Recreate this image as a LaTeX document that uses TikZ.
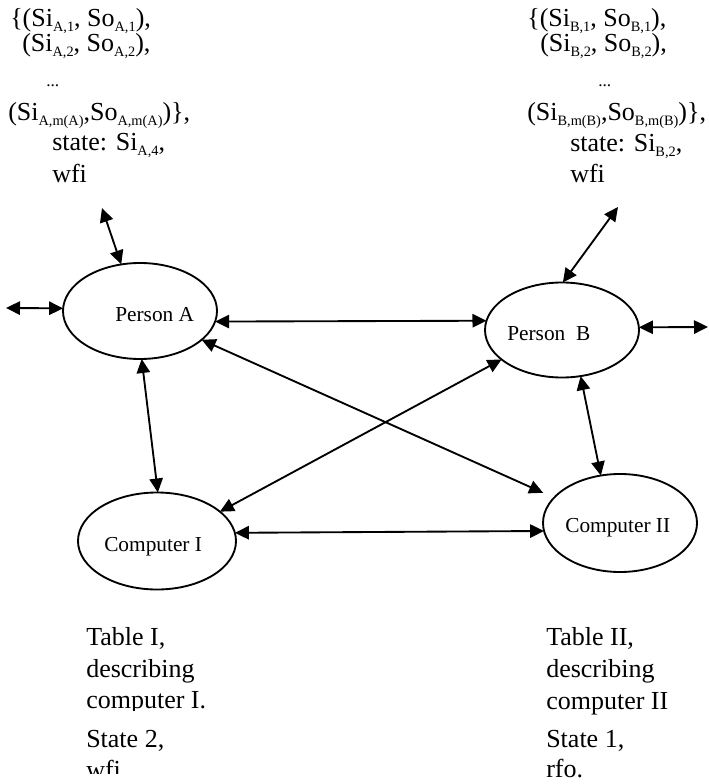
\documentclass[tikz,border=0pt]{standalone}
\usepackage{fontspec}
\setmainfont{Liberation Serif}
\usetikzlibrary{shapes.geometric, arrows.meta}

% small lowered index used in the state pairs
\newcommand{\idx}[1]{\raisebox{-3.4pt}{\fontsize{10.75}{10.75}\selectfont #1}}

\tikzset{
  actor/.style={ellipse, draw, line width=1.4pt, inner sep=0pt, outer sep=0pt},
  link/.style={line width=1.4pt,
    {Triangle[length=10.5pt,width=10pt]}-{Triangle[length=10.5pt,width=10pt]}},
  lbl/.style={font=\fontsize{16}{16}\selectfont, inner sep=0pt, anchor=base west},
  txt/.style={font=\fontsize{19.5}{19.5}\selectfont, inner sep=0pt, anchor=base west},
  dots/.style={font=\fontsize{13}{13}\selectfont, inner sep=0pt, anchor=base west},
}

\begin{document}
\begin{tikzpicture}[x=0.75pt, y=-0.75pt]
\useasboundingbox (0,0) rectangle (709,784);

% ---- the four parties ----
\node[actor, minimum width=115.5pt, minimum height=72pt]    (PA)  at (140,311) {};
\node[actor, minimum width=115.5pt, minimum height=71.25pt] (PB)  at (562,330) {};
\node[actor, minimum width=118.5pt, minimum height=72.75pt] (CI)  at (157,541) {};
\node[actor, minimum width=115.5pt, minimum height=73.5pt]  (CII) at (620,523) {};

\node[lbl] (PAt)  at (115,321) {Person A};
\node[lbl] (PBt)  at (507,340) {Person~~B};
\node[lbl] (CIt)  at (104,551) {Computer I};
\node[lbl] (CIIt) at (565,532) {Computer II};

% ---- state of person A ----
\node[txt]  (a1) at (10,27)  {\{(Si\idx{A,1}, So\idx{A,1}),};
\node[txt]  (a2) at (22,52)  {(Si\idx{A,2}, So\idx{A,2}),};
\node[dots] (a3) at (46,87)  {...};
\node[txt]  (a4) at (8,121)  {(Si\idx{A,m(A)},So\idx{A,m(A)})\},};
\node[txt]  (a5) at (52,151) {state: Si\idx{A,4},};
\node[txt]  (a6) at (52,183) {wfi};

% ---- state of person B ----
\node[txt]  (b1) at (527,27)  {\{(Si\idx{B,1}, So\idx{B,1}),};
\node[txt]  (b2) at (540,52)  {(Si\idx{B,2}, So\idx{B,2}),};
\node[dots] (b3) at (598,87)  {...};
\node[txt]  (b4) at (527,121) {(Si\idx{B,m(B)},So\idx{B,m(B)})\},};
\node[txt]  (b5) at (570,152) {state: Si\idx{B,2},};
\node[txt]  (b6) at (570,183) {wfi};

% ---- tables of the computers ----
\begin{scope}
  \clip (80,600) rectangle (300,710);
  \node[txt] (t1) at (86,645) {Table I,};
  \node[txt] (t2) at (86,677) {describing};
  \node[txt] (t3) at (86,708) {computer I.};
\end{scope}
\begin{scope}
  \clip (80,715) rectangle (300,773);
  \node[txt] (s1) at (86,747) {State 2,};
  \node[txt] (s2) at (86,778) {wfi};
\end{scope}

\node[txt] (u1) at (546,645) {Table II,};
\node[txt] (u2) at (546,677) {describing};
\node[txt] (u3) at (546,709) {computer II};
\node[txt] (v1) at (546,747) {State 1,};
\node[txt] (v2) at (546,777) {rfo.};

% ---- outer ends ----
\coordinate (PAup)   at (102,208);
\coordinate (PAleft) at (6,308);
\coordinate (PBup)   at (618,207);
\coordinate (PBright) at (708,327);

% ---- connectors ----
\draw[link] (PAup) -- (PA.112);
\draw[link] (PAleft) -- (PA.178);
\draw[link] (PA.-8.35) -- (PB.173.98);
\draw[link] (PB.2.24) -- (PBright);
\draw[link] (PBup) -- (PB.89);
\draw[link] (PA.-88) -- (CI.89);
\draw[link, shorten >=9pt] (PA.-25.8) -- (CII.159.3);
\draw[link] (PB.206.9) -- (CI.25.4);
\draw[link] (PB.-68.6) -- (CII.112.8);
\draw[link] (CI.6.6) -- (CII.186.78);

\end{tikzpicture}
\end{document}
